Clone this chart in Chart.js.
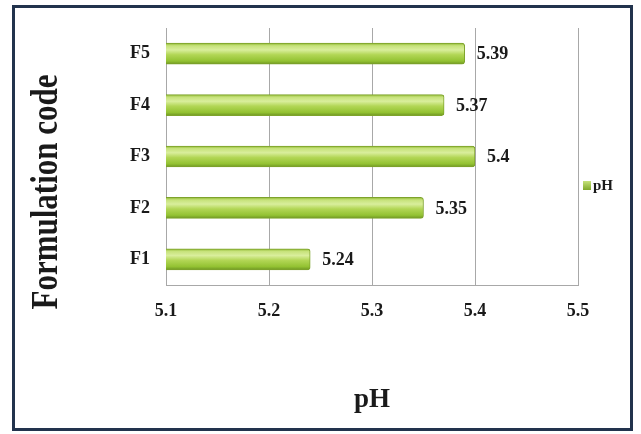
<!DOCTYPE html>
<html>
<head>
<meta charset="utf-8">
<script src="https://cdn.jsdelivr.net/npm/chart.js@4"></script>
<style>
  html, body { margin: 0; padding: 0; background: #ffffff; }
  #wrap { position: relative; width: 641px; height: 434px; overflow: hidden; }
  #frame {
    position: absolute; left: 12px; top: 5px; width: 615px; height: 420px;
    border: 3px solid #22334d; box-sizing: content-box;
  }
  canvas { position: absolute; left: 0; top: 0; }
</style>
</head>
<body>
<div id="wrap">
  <div id="frame"></div>
  <canvas id="c" width="641" height="434"></canvas>
</div>
<script>
// Formulations and their measured pH
const categories = ['F1', 'F2', 'F3', 'F4', 'F5'];
const phValues = [5.24, 5.35, 5.4, 5.37, 5.39];
const xTickValues = [5.1, 5.2, 5.3, 5.4, 5.5];
const seriesName = 'pH';
const xTitle = 'pH';
const yTitle = 'Formulation code';

const SERIF = "'Liberation Serif', 'Times New Roman', serif";
const BAR_THICK = 21;

// Glossy green cylinder shading for each bar
function barGradient(context) {
  const chart = context.chart;
  if (!chart.chartArea || !chart.scales.y) return '#9cc63c';
  const yc = chart.scales.y.getPixelForValue(context.dataIndex);
  const g = chart.ctx.createLinearGradient(0, yc - BAR_THICK / 2, 0, yc + BAR_THICK / 2);
  g.addColorStop(0.0, '#8fb832');
  g.addColorStop(0.12, '#c6e27a');
  g.addColorStop(0.32, '#d9ee9c');
  g.addColorStop(0.55, '#b2d655');
  g.addColorStop(0.85, '#93c232');
  g.addColorStop(1.0, '#6f9623');
  return g;
}

// Value labels, axis titles and legend
const annotate = {
  id: 'annotate',
  afterDatasetsDraw(chart) {
    const ctx = chart.ctx;
    const meta = chart.getDatasetMeta(0);
    ctx.save();
    ctx.fillStyle = '#1a1a1a';
    ctx.font = 'bold 18px ' + SERIF;
    ctx.textAlign = 'left';
    ctx.textBaseline = 'middle';
    meta.data.forEach((bar, i) => {
      ctx.fillText(String(phValues[i]), bar.x + 12, bar.y + 1);
    });

    // x title
    ctx.font = 'bold 27px ' + SERIF;
    ctx.textAlign = 'center';
    ctx.textBaseline = 'alphabetic';
    const ca = chart.chartArea;
    ctx.fillText(xTitle, (ca.left + ca.right) / 2, 407);

    // y title, rotated
    ctx.save();
    ctx.translate(46, 192);
    ctx.rotate(-Math.PI / 2);
    ctx.scale(1, 1.2);
    ctx.font = 'bold 31px ' + SERIF;
    ctx.textAlign = 'center';
    ctx.textBaseline = 'middle';
    ctx.fillText(yTitle, 0, 1);
    ctx.restore();

    // legend
    const lg = ctx.createLinearGradient(0, 181, 0, 190);
    lg.addColorStop(0, '#c6e27a');
    lg.addColorStop(1, '#7fa82a');
    ctx.fillStyle = lg;
    ctx.fillRect(583, 181, 8, 9);
    ctx.fillStyle = '#1a1a1a';
    ctx.font = 'bold 15px ' + SERIF;
    ctx.textAlign = 'left';
    ctx.textBaseline = 'middle';
    ctx.fillText(seriesName, 593, 186);
    ctx.restore();
  }
};

new Chart(document.getElementById('c'), {
  type: 'bar',
  data: {
    labels: categories,
    datasets: [{
      label: seriesName,
      data: phValues,
      backgroundColor: barGradient,
      borderColor: '#7ea32c',
      borderWidth: 1,
      borderRadius: { topRight: 3, bottomRight: 3 },
      borderSkipped: 'start',
      barThickness: BAR_THICK
    }]
  },
  options: {
    indexAxis: 'y',
    responsive: false,
    animation: false,
    events: [],
    layout: { padding: { left: 0, top: 28, right: 63, bottom: 0 } },
    plugins: { legend: { display: false }, tooltip: { enabled: false } },
    scales: {
      x: {
        type: 'linear',
        min: 5.1,
        max: 5.5,
        afterBuildTicks(scale) { scale.ticks = xTickValues.map(v => ({ value: v })); },
        afterFit(scale) { scale.height = 149; },
        grid: { color: '#a8a8a8', lineWidth: 1, drawTicks: false },
        border: { display: true, color: '#a8a8a8', width: 1 },
        ticks: {
          padding: 16,
          color: '#1a1a1a',
          font: { family: SERIF, size: 18, weight: 'bold' },
          callback: v => Number(v).toFixed(1)
        }
      },
      y: {
        reverse: true,
        afterFit(scale) { scale.width = 166; },
        grid: { display: false, drawTicks: false },
        border: { display: true, color: '#a8a8a8', width: 1 },
        ticks: {
          padding: 16,
          color: '#1a1a1a',
          font: { family: SERIF, size: 18, weight: 'bold' }
        }
      }
    }
  },
  plugins: [annotate]
});
</script>
</body>
</html>
